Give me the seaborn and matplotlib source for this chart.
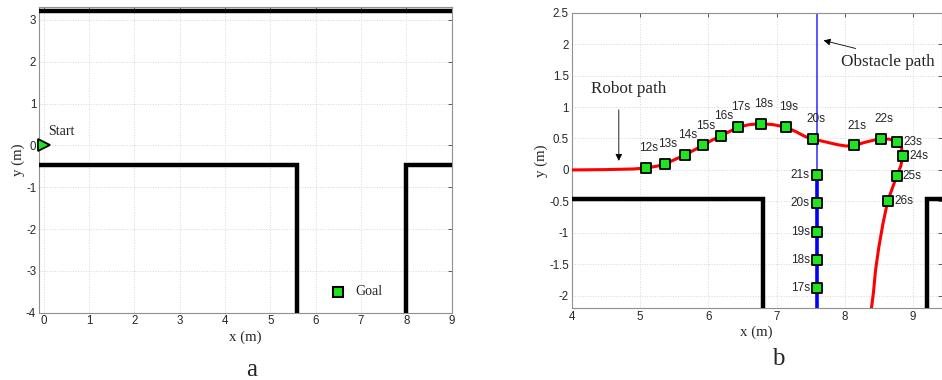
import matplotlib
matplotlib.use("Agg")
import matplotlib.pyplot as plt
import seaborn as sns
import pandas as pd

# ---------------- data ----------------
# Panel a: environment
wall_top_x = [-0.1, 9.0]
wall_top_y = [3.2, 3.2]
wall_left_x = [-0.1, 5.6, 5.6]
wall_left_y = [-0.47, -0.47, -4.0]
wall_right_x = [8.0, 8.0, 9.0]
wall_right_y = [-4.0, -0.47, -0.47]
start_xy = (0.0, 0.0)
goal_xy = (6.5, -3.5)

# Panel b: robot path
path_x = [4.0, 4.5, 4.9, 5.09, 5.25, 5.37, 5.5, 5.66, 5.8, 5.92, 6.05, 6.18, 6.31, 6.44,
          6.6, 6.77, 6.95, 7.14, 7.3, 7.42, 7.54, 7.7, 7.9, 8.02, 8.14, 8.3, 8.45, 8.53,
          8.65, 8.77, 8.83, 8.85, 8.82, 8.76, 8.7, 8.63, 8.56, 8.50, 8.45, 8.42, 8.39]
path_y = [0.0, 0.005, 0.015, 0.03, 0.06, 0.095, 0.16, 0.24, 0.32, 0.39, 0.47, 0.54, 0.61, 0.68,
          0.72, 0.735, 0.72, 0.68, 0.6, 0.53, 0.49, 0.45, 0.40, 0.38, 0.39, 0.44, 0.48, 0.49,
          0.49, 0.45, 0.36, 0.22, 0.06, -0.10, -0.28, -0.49, -0.85, -1.22, -1.6, -1.95, -2.2]

robot_t = ["12s", "13s", "14s", "15s", "16s", "17s", "18s", "19s", "20s", "21s", "22s",
           "23s", "24s", "25s", "26s"]
robot_x = [5.09, 5.37, 5.66, 5.92, 6.18, 6.44, 6.77, 7.14, 7.54, 8.14, 8.53, 8.77, 8.85, 8.76, 8.63]
robot_y = [0.03, 0.095, 0.24, 0.39, 0.54, 0.68, 0.735, 0.68, 0.49, 0.39, 0.49, 0.45, 0.22, -0.10, -0.49]

obst_t = ["21s", "20s", "19s", "18s", "17s"]
obst_x = [7.6, 7.6, 7.6, 7.6, 7.6]
obst_y = [-0.08, -0.53, -0.98, -1.43, -1.88]
obst_thin_y = [-0.08, 2.5]
obst_thick_y = [-2.2, -0.08]

b_wall_left_x = [4.0, 6.8, 6.8]
b_wall_left_y = [-0.47, -0.47, -2.2]
b_wall_right_x = [9.2, 9.2, 9.42]
b_wall_right_y = [-2.2, -0.47, -0.47]

# ---------------- style ----------------
sns.set_theme(style="white")
plt.rcParams["axes.unicode_minus"] = False
plt.rcParams["font.family"] = ["Liberation Sans", "DejaVu Sans"]

SERIF = ["Liberation Serif", "DejaVu Serif"]
GREEN = "#1ee61e"
TICKFS = 8.3
TIMEFS = 8.5

fig = plt.figure(figsize=(9.42, 3.8), dpi=100)
axA = fig.add_axes([0.0414, 0.1771, 0.4381, 0.8037])
axB = fig.add_axes([0.6069, 0.1887, 0.3928, 0.7779])


def style_ax(ax):
    for s in ax.spines.values():
        s.set_color("#909090")
        s.set_linewidth(0.8)
        s.set_visible(True)
    ax.tick_params(direction="in", length=3, width=0.6, color="#404040",
                   labelsize=TICKFS, labelcolor="#262626", top=True, right=True,
                   pad=2)
    ax.grid(True, color="#d8d8d8", linestyle=":", linewidth=0.7)
    ax.set_axisbelow(True)


# ---------------- panel a ----------------
for wx, wy in [(wall_top_x, wall_top_y), (wall_left_x, wall_left_y), (wall_right_x, wall_right_y)]:
    axA.plot(wx, wy, color="black", lw=3.2, solid_joinstyle="miter", solid_capstyle="butt", zorder=3)
axA.plot([start_xy[0]], [start_xy[1]], marker=">", ms=9, mfc=GREEN, mec="black", mew=1.3,
         linestyle="none", zorder=5, clip_on=False)
axA.text(0.1, 0.18, "Start", family=SERIF, fontsize=10, ha="left", va="bottom")
axA.plot([goal_xy[0]], [goal_xy[1]], marker="s", ms=6.5, mfc=GREEN, mec="black", mew=1.5,
         linestyle="none", zorder=5)
axA.text(6.88, goal_xy[1], "Goal", family=SERIF, fontsize=10, ha="left", va="center")
axA.set_xlim(-0.1, 9)
axA.set_ylim(-4, 3.3)
axA.set_xticks(range(0, 10))
axA.set_yticks(range(-4, 4))
style_ax(axA)
axA.set_xlabel("x (m)", family=SERIF, fontsize=10.7, labelpad=2)
axA.set_ylabel("y (m)", family=SERIF, fontsize=10.7, labelpad=1)

# ---------------- panel b ----------------
df_path = pd.DataFrame({"x": path_x, "y": path_y})
df_robot = pd.DataFrame({"x": robot_x, "y": robot_y, "t": robot_t})
df_obst = pd.DataFrame({"x": obst_x, "y": obst_y, "t": obst_t})

for wx, wy in [(b_wall_left_x, b_wall_left_y), (b_wall_right_x, b_wall_right_y)]:
    axB.plot(wx, wy, color="black", lw=3.2, solid_joinstyle="miter", solid_capstyle="butt", zorder=3)

axB.plot([obst_x[0], obst_x[0]], obst_thin_y, color="#3a3aff", lw=1.2, zorder=2)
axB.plot([obst_x[0], obst_x[0]], obst_thick_y, color="#0000ff", lw=2.6, zorder=2)

sns.lineplot(data=df_path, x="x", y="y", sort=False, estimator=None, color="#ff0000",
             lw=2.2, ax=axB, zorder=4)
sns.scatterplot(data=df_robot, x="x", y="y", marker="s", s=45, color=GREEN,
                edgecolor="black", linewidth=1.3, ax=axB, zorder=6)
sns.scatterplot(data=df_obst, x="x", y="y", marker="s", s=45, color=GREEN,
                edgecolor="black", linewidth=1.3, ax=axB, zorder=6)

for i, (t, x, y) in enumerate(zip(robot_t, robot_x, robot_y)):
    if i <= 10:
        axB.annotate(t, (x, y), xytext=(2, 10), textcoords="offset points",
                     ha="center", va="bottom", fontsize=TIMEFS, color="#262626")
    else:
        axB.annotate(t, (x, y), xytext=(4.5, 0), textcoords="offset points",
                     ha="left", va="center", fontsize=TIMEFS, color="#262626")
for t, x, y in zip(obst_t, obst_x, obst_y):
    axB.annotate(t, (x, y), xytext=(-5.5, 0), textcoords="offset points",
                 ha="right", va="center", fontsize=TIMEFS, color="#262626")

axB.annotate("", xy=(4.69, 0.1), xytext=(4.69, 1.0),
             arrowprops=dict(arrowstyle="-|>", color="black", lw=0.6, mutation_scale=10))
axB.text(4.83, 1.28, "Robot path", family=SERIF, fontsize=12.3, ha="center", va="center")
axB.annotate("", xy=(7.65, 2.07), xytext=(8.2, 1.92),
             arrowprops=dict(arrowstyle="-|>", color="black", lw=0.6, mutation_scale=10))
axB.text(8.63, 1.72, "Obstacle path", family=SERIF, fontsize=12.3, ha="center", va="center")

axB.set_xlim(4, 9.42)
axB.set_ylim(-2.2, 2.5)
axB.set_xticks(range(4, 10))
axB.set_yticks([-2, -1.5, -1, -0.5, 0, 0.5, 1, 1.5, 2, 2.5])
axB.set_yticklabels(["-2", "-1.5", "-1", "-0.5", "0", "0.5", "1", "1.5", "2", "2.5"])
style_ax(axB)
axB.set_xlabel("x (m)", family=SERIF, fontsize=10.7, labelpad=2)
axB.set_ylabel("y (m)", family=SERIF, fontsize=10.7, labelpad=1)

fig.text(252 / 942, 1 - 370 / 380, "a", family=SERIF, fontsize=18, ha="center", va="center")
fig.text(778 / 942, 1 - 359 / 380, "b", family=SERIF, fontsize=18, ha="center", va="center")

fig.savefig("out.png", dpi=100)
